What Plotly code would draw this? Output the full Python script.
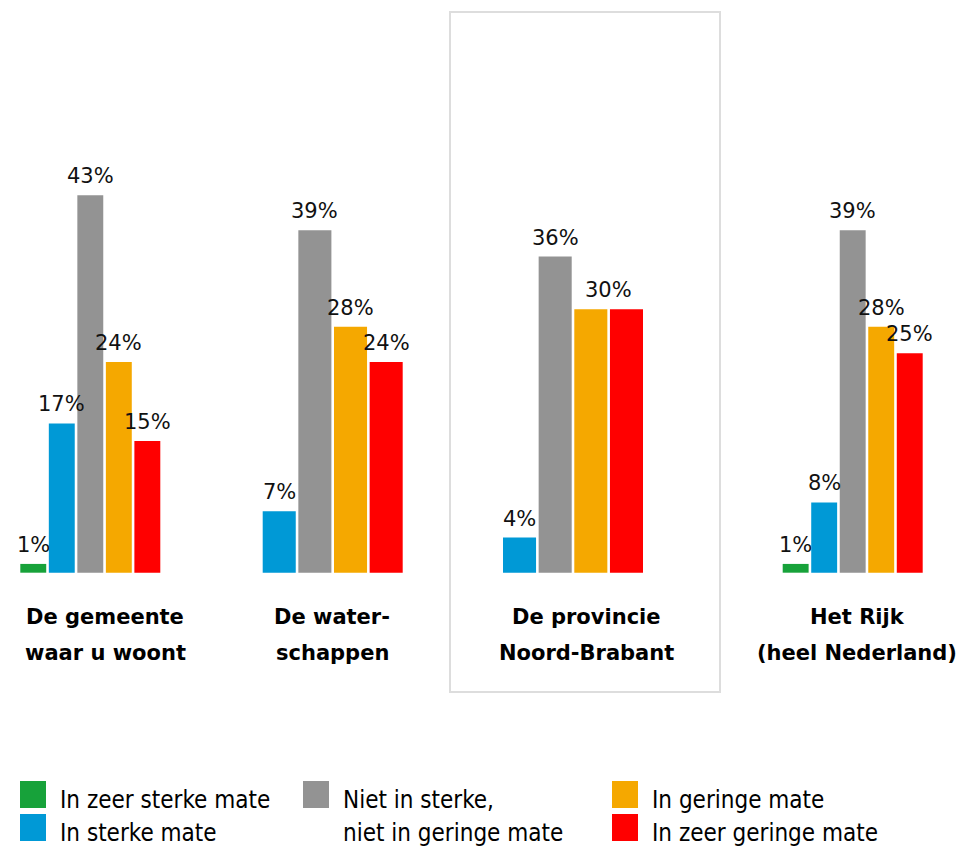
import plotly.graph_objects as go

# ---------------- data ----------------
categories = ["De gemeente\nwaar u woont", "De water-\nschappen",
              "De provincie\nNoord-Brabant", "Het Rijk\n(heel Nederland)"]
series_names = ["In zeer sterke mate", "In sterke mate",
                "Niet in sterke,\nniet in geringe mate",
                "In geringe mate", "In zeer geringe mate"]
zeer_sterk = [1, None, None, 1]
sterk = [17, 7, 4, 8]
neutraal = [43, 39, 36, 39]
gering = [24, 28, 30, 28]
zeer_gering = [15, 24, 30, 25]
values = [zeer_sterk, sterk, neutraal, gering, zeer_gering]

# ---------------- layout / style ----------------
colors = ["#17a23a", "#0099d6", "#939393", "#f5a800", "#ff0000"]
PAGE_W, PAGE_H = 964, 848
OFF = 8                      # default page body margin
W, H = PAGE_W - OFF, PAGE_H - OFF
group_centers = [90.3, 332.7, 573, 852.7]     # page px along x axis
label_centers = [105, 332, 586, 857]
GROUP_SPAN = 140.0
GAP = 2.6
BASELINE_PX = 572.7 - OFF
PX_PER_UNIT = 8.78
ymax = BASELINE_PX / PX_PER_UNIT
ymin = ymax - H / PX_PER_UNIT

def paper_y(p):
    """page pixel row -> paper coordinate"""
    return 1 - (p - OFF) / H

fig = go.Figure()

# compute bar positions per group (only present bars take a slot)
bar_pos = {}
for g in range(len(categories)):
    present = [s for s in range(len(values)) if values[s][g] is not None]
    n = len(present)
    slot = (GROUP_SPAN + GAP) / n
    bw = slot - GAP
    left = group_centers[g] - GROUP_SPAN / 2
    for k, s in enumerate(present):
        bar_pos[(s, g)] = (left + k * slot + bw / 2, bw)

for s, name in enumerate(series_names):
    xs, ys, ws = [], [], []
    for g in range(len(categories)):
        v = values[s][g]
        if v is None:
            continue
        x, w = bar_pos[(s, g)]
        xs.append(x); ys.append(v); ws.append(w)
    fig.add_trace(go.Bar(x=xs, y=ys, width=ws, name=name.replace("\n", " "),
                         marker=dict(color=colors[s], line=dict(width=0)),
                         showlegend=False, hoverinfo="skip"))

annotations = []
value_font = dict(family="DejaVu Sans", size=21, color="#111111")
# value labels, merging adjacent equal values in a group
for g in range(len(categories)):
    present = [s for s in range(len(values)) if values[s][g] is not None]
    groups = []
    for s in present:
        v = values[s][g]
        if groups and groups[-1][0] == v:
            groups[-1][1].append(bar_pos[(s, g)][0])
        else:
            groups.append([v, [bar_pos[(s, g)][0]]])
    for v, xs in groups:
        annotations.append(dict(x=sum(xs) / len(xs), y=v, xref="x", yref="y",
                                text=f"{v}%", showarrow=False, yanchor="bottom",
                                yshift=5, font=value_font))

# category labels (two lines each)
cat_font = dict(family="DejaVu Sans", size=21, color="#000000", weight="bold")
for g, cat in enumerate(categories):
    for i, line in enumerate(cat.split("\n")):
        base = 624 + i * 36
        annotations.append(dict(x=label_centers[g], y=paper_y(base - 7), xref="x",
                                yref="paper", text=line, showarrow=False,
                                xanchor="center", yanchor="middle", font=cat_font))

shapes = []
# highlight box around the province group
shapes.append(dict(type="rect", xref="x", yref="paper", x0=450, x1=720,
                   y0=paper_y(692), y1=paper_y(12),
                   line=dict(color="#dddddd", width=2), fillcolor="rgba(0,0,0,0)",
                   layer="below"))

# custom legend
legend_font = dict(family="DejaVu Sans Condensed, DejaVu Sans", size=24, color="#000000")
legend_slots = [(20, 0), (20, 1), (303, 0), (612, 0), (612, 1)]
row_base = [808, 841]
for s, name in enumerate(series_names):
    x0, r = legend_slots[s]
    b = row_base[r]
    shapes.append(dict(type="rect", xref="x", yref="paper", x0=x0, x1=x0 + 26,
                       y0=paper_y(b), y1=paper_y(b - 27), fillcolor=colors[s],
                       line=dict(width=0)))
    for i, line in enumerate(name.split("\n")):
        lb = b + i * 33
        annotations.append(dict(x=x0 + 38, y=paper_y(lb - 8), xref="x", yref="paper",
                                text=line, showarrow=False, xanchor="left",
                                yanchor="middle", font=legend_font))

fig.update_layout(
    width=W, height=H,
    margin=dict(l=0, r=0, t=0, b=0),
    paper_bgcolor="white", plot_bgcolor="white",
    barmode="overlay",
    xaxis=dict(visible=False, range=[OFF, PAGE_W], fixedrange=True),
    yaxis=dict(visible=False, range=[ymin, ymax], fixedrange=True),
    annotations=annotations, shapes=shapes,
    showlegend=False,
)

fig.write_html("out.html")
